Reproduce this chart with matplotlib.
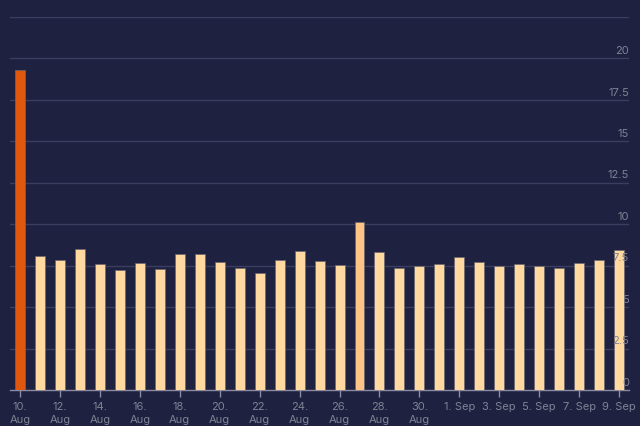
import matplotlib
matplotlib.use("Agg")
import matplotlib.pyplot as plt

# daily values, 10 Aug .. 9 Sep
days = ["10. Aug", "11. Aug", "12. Aug", "13. Aug", "14. Aug", "15. Aug", "16. Aug",
        "17. Aug", "18. Aug", "19. Aug", "20. Aug", "21. Aug", "22. Aug", "23. Aug",
        "24. Aug", "25. Aug", "26. Aug", "27. Aug", "28. Aug", "29. Aug", "30. Aug",
        "31. Aug", "1. Sep", "2. Sep", "3. Sep", "4. Sep", "5. Sep", "6. Sep",
        "7. Sep", "8. Sep", "9. Sep"]
values = [19.3, 8.06, 7.85, 8.51, 7.62, 7.24, 7.68, 7.30, 8.23, 8.23, 7.74,
          7.38, 7.06, 7.85, 8.39, 7.79, 7.56, 10.16, 8.33, 7.38, 7.46,
          7.62, 8.0, 7.72, 7.5, 7.62, 7.5, 7.38, 7.68, 7.85, 8.45]
tick_labels = ["10.\nAug", "12.\nAug", "14.\nAug", "16.\nAug", "18.\nAug",
               "20.\nAug", "22.\nAug", "24.\nAug", "26.\nAug", "28.\nAug",
               "30.\nAug", "1. Sep", "3. Sep", "5. Sep", "7. Sep", "9. Sep"]
y_ticks = [0, 2.5, 5, 7.5, 10, 12.5, 15, 17.5, 20]
y_tick_labels = ["0", "2.5", "5", "7.5", "10", "12.5", "15", "17.5", "20"]

bg = "#1f2140"
bar_color = "#ffd99f"
highlight = {0: "#e0580e", 17: "#ffc287"}
grid_color = "#3b3e5e"
text_color = "#808294"
axis_color = "#8a8ca2"

plt.rcParams["font.family"] = ["Inter", "DejaVu Sans"]

fig = plt.figure(figsize=(6.4, 4.27), dpi=100, facecolor=bg)
ax = fig.add_axes([0.0156, 0.0843, 0.9674, 0.8737])
ax.set_facecolor(bg)

x = list(range(len(values)))
colors = [highlight.get(i, bar_color) for i in x]
ax.bar(x, values, width=0.5, color=colors, edgecolor="#6b6670", linewidth=0.5, zorder=3)

ax.set_xlim(-0.5, len(values) - 0.5)
ax.set_ylim(0, 22.5)

# horizontal grid
for yv in y_ticks[1:] + [22.5]:
    ax.axhline(yv, color=grid_color, linewidth=1, zorder=1)

# y labels sit inside the plot, right aligned, above the grid line
ax.set_yticks([])
for yv, lab in zip(y_ticks, y_tick_labels):
    ax.text(len(values) - 0.5, yv + 0.2, lab, ha="right", va="bottom",
            color=text_color, fontsize=8, zorder=4)

ax.set_xticks(x[::2])
ax.set_xticklabels(tick_labels, color=text_color, fontsize=8, linespacing=1.4)
ax.tick_params(axis="x", length=5, width=1, color=axis_color, pad=3)

for side in ["top", "right", "left"]:
    ax.spines[side].set_visible(False)
ax.spines["bottom"].set_color(axis_color)
ax.spines["bottom"].set_linewidth(1)

fig.savefig("out.png", dpi=100, facecolor=bg)
